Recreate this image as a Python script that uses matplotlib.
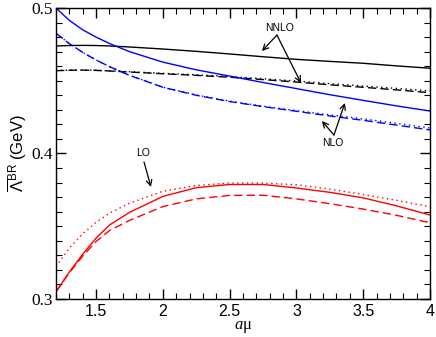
import numpy as np
import matplotlib
matplotlib.use('Agg')
import matplotlib.pyplot as plt
from matplotlib.ticker import MultipleLocator

plt.rcParams['font.family'] = ['Liberation Sans', 'DejaVu Sans']
plt.rcParams['mathtext.fontset'] = 'custom'
plt.rcParams['mathtext.rm'] = 'Liberation Sans'
plt.rcParams['mathtext.it'] = 'Liberation Serif:italic'

# a*mu values where curves were read
amu = [1.2, 1.3, 1.4, 1.5, 1.6, 1.75, 2.0, 2.25, 2.5, 2.75, 3.0, 3.25, 3.5, 3.75, 4.0]

# NNLO (black)
nnlo_solid = [0.4739, 0.4742, 0.4743, 0.4742, 0.4739, 0.4732, 0.4718, 0.4702, 0.4684,
              0.4665, 0.4647, 0.4633, 0.4620, 0.4602, 0.4586]
nnlo_dashed = [0.4569, 0.4572, 0.4573, 0.4571, 0.4567, 0.4560, 0.4548, 0.4537, 0.4524,
               0.4508, 0.4491, 0.4472, 0.4455, 0.4437, 0.4418]
nnlo_dotted = [0.4570, 0.4573, 0.4574, 0.4572, 0.4568, 0.4562, 0.4551, 0.4541, 0.4529,
               0.4514, 0.4498, 0.4480, 0.4464, 0.4447, 0.4430]

# NLO (blue)
nlo_solid = [0.5000, 0.4915, 0.4850, 0.4800, 0.4756, 0.4700, 0.4628, 0.4575, 0.4532,
             0.4488, 0.4446, 0.4404, 0.4365, 0.4327, 0.4292]
nlo_dashed = [0.4826, 0.4755, 0.4695, 0.4643, 0.4597, 0.4537, 0.4455, 0.4400, 0.4357,
              0.4322, 0.4290, 0.4258, 0.4228, 0.4195, 0.4162]
nlo_dotted = [0.4826, 0.4755, 0.4695, 0.4643, 0.4597, 0.4538, 0.4456, 0.4402, 0.4360,
              0.4325, 0.4295, 0.4265, 0.4238, 0.4207, 0.4175]

# LO (red)
lo_solid = [0.3050, 0.3185, 0.3308, 0.3418, 0.3508, 0.3595, 0.3705, 0.3765, 0.3787,
            0.3787, 0.3763, 0.3733, 0.3695, 0.3640, 0.3577]
lo_dashed = [0.3050, 0.3180, 0.3295, 0.3395, 0.3470, 0.3540, 0.3635, 0.3688, 0.3712,
             0.3713, 0.3688, 0.3655, 0.3618, 0.3575, 0.3524]
lo_dotted = [0.3222, 0.3350, 0.3448, 0.3527, 0.3590, 0.3658, 0.3740, 0.3780, 0.3797,
             0.3797, 0.3785, 0.3755, 0.3718, 0.3678, 0.3634]

fig = plt.figure(figsize=(4.36, 3.37), dpi=100)
ax = fig.add_axes([0.1284, 0.1128, 0.8578, 0.8635])

lw = 1.0
ax.plot(amu, nnlo_solid, color='black', lw=lw)
ax.plot(amu, nnlo_dashed, color='black', lw=lw, ls=(0, (6, 3)))
ax.plot(amu, nnlo_dotted, color='black', lw=lw, ls=(0, (1, 2.5)))

ax.plot(amu, nlo_solid, color='#0000ff', lw=lw)
ax.plot(amu, nlo_dashed, color='#0000ff', lw=lw, ls=(0, (6, 3)))
ax.plot(amu, nlo_dotted, color='#0000ff', lw=lw, ls=(0, (1, 2.5)))

ax.plot(amu, lo_solid, color='#ff0000', lw=lw)
ax.plot(amu, lo_dashed, color='#ff0000', lw=lw, ls=(0, (6, 3)))
ax.plot(amu, lo_dotted, color='#ff0000', lw=lw, ls=(0, (1, 2.5)))

# labels with arrows
arr = dict(arrowstyle='->', color='black', lw=0.9, shrinkA=0, shrinkB=0)
ax.text(2.877, 0.4865, 'NNLO', fontsize=7.5, ha='center', va='center')
ax.annotate('', xy=(2.742, 0.4704), xytext=(2.854, 0.4814), arrowprops=arr)
ax.annotate('', xy=(3.034, 0.4485), xytext=(2.854, 0.4814), arrowprops=arr)

ax.text(3.273, 0.4070, 'NLO', fontsize=7.5, ha='center', va='center')
ax.annotate('', xy=(3.191, 0.4223), xytext=(3.281, 0.4127), arrowprops=arr)
ax.annotate('', xy=(3.363, 0.4347), xytext=(3.281, 0.4127), arrowprops=arr)

ax.text(1.851, 0.4003, 'LO', fontsize=7.5, ha='center', va='center')
ax.annotate('', xy=(1.911, 0.3770), xytext=(1.859, 0.3942), arrowprops=arr)

ax.set_xlim(1.2, 4.0)
ax.set_ylim(0.3, 0.5)
ax.xaxis.set_major_locator(MultipleLocator(0.5))
ax.xaxis.set_minor_locator(MultipleLocator(0.1))
ax.yaxis.set_major_locator(MultipleLocator(0.1))
ax.yaxis.set_minor_locator(MultipleLocator(0.01))
ax.tick_params(which='both', direction='in', top=True, right=True)
ax.tick_params(which='major', length=7, width=1)
ax.tick_params(which='minor', length=4, width=0.8)
for s in ax.spines.values():
    s.set_linewidth(1.0)

ax.set_xticks([1.5, 2.0, 2.5, 3.0, 3.5, 4.0])
ax.set_xticklabels(['1.5', '2', '2.5', '3', '3.5', '4'], fontsize=11.5)
ax.set_yticks([0.3, 0.4, 0.5])
ax.set_yticklabels(['0.3', '0.4', '0.5'])
for lbl in ax.get_yticklabels():
    lbl.set_fontfamily('Liberation Serif')
    lbl.set_fontsize(12.5)
ax.tick_params(axis='y', pad=2)

ax.set_xlabel('$a$μ', fontsize=12, labelpad=0, family='Liberation Serif')
ax.set_ylabel(r'$\overline{\Lambda}^{\rm BR}$ (GeV)', fontsize=12, labelpad=2)

fig.savefig('out.png', dpi=100)
